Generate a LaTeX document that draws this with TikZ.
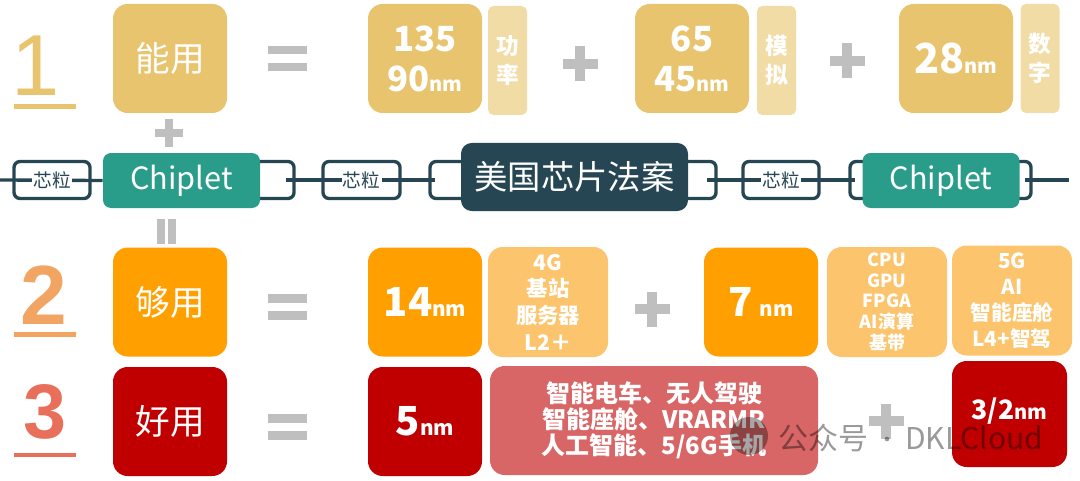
\documentclass[tikz,border=0pt]{standalone}
\usepackage{fontspec}
\setmainfont{Noto Sans CJK SC}
\newfontfamily\numfont{Liberation Sans}
\definecolor{gold}{HTML}{E8C46E}
\definecolor{goldlt}{HTML}{F2DCA6}
\definecolor{org}{HTML}{FFA000}
\definecolor{orglt}{HTML}{FCC46C}
\definecolor{dred}{HTML}{C00000}
\definecolor{redlt}{HTML}{D96666}
\definecolor{tealc}{HTML}{2A9D8A}
\definecolor{darkc}{HTML}{264653}
\definecolor{grey}{HTML}{BFBFBF}
\definecolor{ctwo}{HTML}{F2A462}
\definecolor{cthree}{HTML}{E8705A}
\begin{document}
\begin{tikzpicture}[x=0.75pt,y=-0.75pt,
  big/.style={rounded corners=11pt, minimum width=85.5pt, minimum height=81.75pt, inner sep=0pt, text=white, align=center},
  tagbox/.style={rounded corners=4pt, minimum width=29.25pt, minimum height=81.75pt, inner sep=0pt, text=white, align=center, fill=goldlt, font=\bfseries\fontsize{17}{22}\selectfont},
  infobox/.style={rounded corners=11pt, minimum width=90pt, minimum height=82.5pt, inner sep=0pt, text=white, align=center, fill=orglt},
  linkbox/.style={draw=darkc, line width=2.5pt, rounded corners=4.5pt, minimum height=27.75pt, inner sep=0pt},
  chainline/.style={draw=darkc, line width=2.5pt},
  linklabel/.style={fill=white, inner sep=1pt, text=darkc, font=\fontsize{14}{14}\selectfont},
  chipbox/.style={fill=tealc, text=white, rounded corners=6pt, minimum width=117.75pt, minimum height=41.25pt, inner sep=0pt, font=\fontsize{23}{23}\selectfont},
  usebox/.style={big, font=\fontsize{26}{26}\selectfont},
  wmtext/.style={anchor=west, text=black, text opacity=0.4, inner sep=0pt, font=\fontsize{22.5}{22.5}\selectfont}
]
\useasboundingbox (0,0) rectangle (1080,481);

% big numbers
\node[text=gold, font=\numfont\fontsize{65}{65}\selectfont, inner sep=0pt] (n1) at (36,66) {1};
\fill[gold] (14,104) rectangle (76,109);
\node[text=ctwo, font=\numfont\bfseries\fontsize{63}{63}\selectfont, inner sep=0pt] (n2) at (44,295) {2};
\fill[ctwo] (14,332) rectangle (76,337);
\node[text=cthree, font=\numfont\bfseries\fontsize{58}{58}\selectfont, inner sep=0pt] (n3) at (45,412) {3};
\fill[cthree] (14,453) rectangle (76,457);

% equals signs
\foreach \y in {46,294,414}{
  \fill[grey] (268,\y) rectangle (307,\y+8.5);
  \fill[grey] (268,\y+17) rectangle (307,\y+25.5);
}
% plus signs
\foreach \cx/\cy/\h/\t in {580/64/17.5/5, 847/61/17.5/5, 169/133/14/4, 652/309/17.5/5, 886/421/17.5/5}{
  \fill[grey] (\cx-\h,\cy-\t) rectangle (\cx+\h,\cy+\t);
  \fill[grey] (\cx-\t,\cy-\h) rectangle (\cx+\t,\cy+\h);
}
% vertical equals under Chiplet
\fill[grey] (157,219) rectangle (165,244);
\fill[grey] (168,219) rectangle (176,244);

% row 1
\node[usebox, fill=gold] (use1) at (170,58.5) {能用};
\node[big, fill=gold, font=\bfseries\fontsize{26}{30}\selectfont] (p135) at (425,58.5) {135\\90{\fontsize{15}{15}\selectfont nm}};
\node[tagbox] (t1) at (507.5,60.5) {功\\率};
\node[big, fill=gold, font=\bfseries\fontsize{26}{30}\selectfont] (p65) at (692,58.5) {65\\45{\fontsize{15}{15}\selectfont nm}};
\node[tagbox] (t2) at (776.5,60.5) {模\\拟};
\node[big, fill=gold, font=\bfseries\fontsize{31}{31}\selectfont] (p28) at (956,58.5) {28{\fontsize{15}{15}\selectfont nm}};
\node[tagbox] (t3) at (1040,58.5) {数\\字};

% row 2
\node[usebox, fill=org] (use2) at (170,302) {够用};
\node[big, fill=org, font=\bfseries\fontsize{30}{30}\selectfont] (p14) at (425,302) {14{\fontsize{15.5}{15.5}\selectfont nm}};
\node[infobox, font=\bfseries\fontsize{16}{20}\selectfont] (i1) at (548,302) {4G\\基站\\服务器\\L2＋};
\node[big, fill=org, font=\bfseries\fontsize{30}{30}\selectfont] (p7) at (761,302) {7\,{\fontsize{15.5}{15.5}\selectfont nm}};
\node[infobox, font=\bfseries\fontsize{13.5}{15.5}\selectfont] (i2) at (887,302) {CPU\\GPU\\FPGA\\AI演算\\基带};
\node[infobox, font=\bfseries\fontsize{15.5}{19.5}\selectfont] (i3) at (1012,300.5) {5G\\AI\\智能座舱\\L4+智驾};

% row 3
\node[usebox, fill=dred] (use3) at (170,421.5) {好用};
\node[big, fill=dred, font=\bfseries\fontsize{30}{30}\selectfont] (p5) at (425,421.5) {5{\fontsize{15.5}{15.5}\selectfont nm}};
\node[rounded corners=11pt, minimum width=246pt, minimum height=81.75pt, inner sep=0pt, fill=redlt, text=white, align=center, font=\bfseries\fontsize{18}{19.5}\selectfont] (i4) at (654,420.5) {智能电车、无人驾驶\\智能座舱、VRARMR\\人工智能、5/6G手机};
\node[fill=dred, rounded corners=11pt, minimum width=86.25pt, minimum height=79.5pt, inner sep=0pt] (p32) at (1009.5,414) {};
\node[text=white, inner sep=0pt, font=\bfseries\fontsize{20}{20}\selectfont] (p32t) at (1009.5,411) {3/2{\fontsize{15}{15}\selectfont nm}};

% chain: brackets behind solid boxes
\coordinate (cstart) at (0,180);
\coordinate (cend) at (1069,180);
\node[linkbox, fill=white, minimum width=40.5pt] (br1) at (267,180) {};
\node[linkbox, fill=white, minimum width=37.5pt] (brL) at (455,180) {};
\node[linkbox, fill=white, minimum width=34.5pt] (brR) at (693,180) {};
\node[linkbox, fill=white, minimum width=22.5pt] (bc2L) at (865,180) {};
\node[linkbox, fill=white, minimum width=23.25pt] (bc2R) at (1015.5,180) {};

\node[chipbox] (chip1) at (181.5,180.5) {Chiplet};
\node[fill=darkc, text=white, rounded corners=8pt, minimum width=170.25pt, minimum height=51pt, inner sep=0pt, font=\fontsize{25}{25}\selectfont] (law) at (574.5,177) {美国芯片法案};
\node[chipbox] (chip2) at (941,180.5) {Chiplet};

\draw[chainline] (cstart) -- (chip1.west);
\draw[chainline] ([xshift=-7.5pt]br1.east) -- ([xshift=5pt]brL.west);
\draw[chainline] ([xshift=-8pt]brR.east) -- ([xshift=5pt]bc2L.west);
\draw[chainline] ([xshift=-6pt]bc2R.east) -- (cend);

\node[linkbox, minimum width=57pt] (x1) at (52,180) {};
\node[linklabel] (x1t) at (x1) {芯粒};
\node[linkbox, minimum width=57.75pt] (x2) at (361.5,180) {};
\node[linklabel] (x2t) at (x2) {芯粒};
\node[linkbox, minimum width=57pt] (x3) at (781,180) {};
\node[linklabel] (x3t) at (x3) {芯粒};

% watermark
\fill[black, opacity=0.35] (749,436) circle[radius=14.25pt];
\node[wmtext] (wm1) at (778,438) {公众号};
\node[circle, fill=black, fill opacity=0.4, inner sep=0pt, minimum size=3.5pt] (wmdot) at (887,439) {};
\node[wmtext] (wm2) at (905,438) {DKLCloud};
\end{tikzpicture}
\end{document}
